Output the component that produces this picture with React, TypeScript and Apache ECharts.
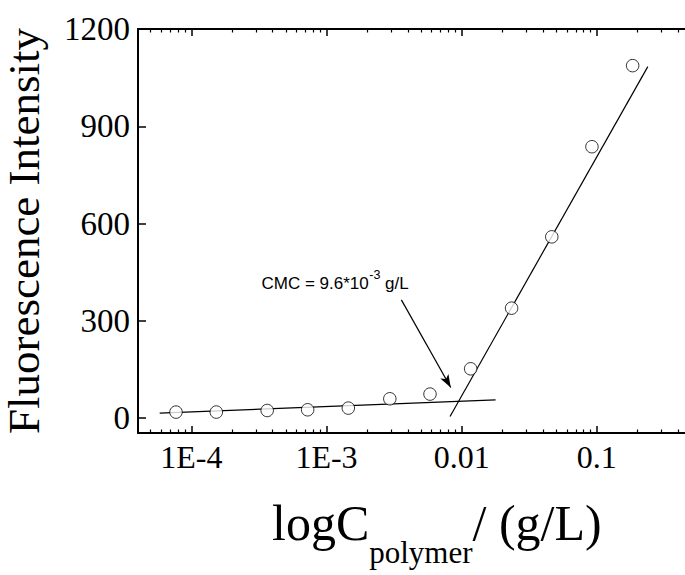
import React, { useEffect, useRef } from "react";
import * as echarts from "echarts";

// Measured data (concentration in g/L, fluorescence intensity)
const concentrations = [7.7e-5, 1.53e-4, 3.64e-4, 7.25e-4, 1.45e-3, 2.94e-3, 5.83e-3, 0.01165, 0.0234, 0.0464, 0.092, 0.184];
const intensities = [18.5, 18.5, 23.4, 25.6, 30.8, 59.5, 74, 152, 339, 559, 837, 1087];

// Linear fits (end points)
const fitLowX = [5.83e-5, 0.01782];
const fitLowY = [15.4, 56.4];
const fitHighX = [8.2e-3, 0.2383];
const fitHighY = [4.9, 1084];

// Annotation arrow (start, tip)
const arrowX = [3.58e-3, 8.3e-3];
const arrowY = [364.7, 94.3];

// Axes
const xMajorTicks = [1e-4, 1e-3, 1e-2, 1e-1];
const xMajorLabels = ["1E-4", "1E-3", "0.01", "0.1"];
const yTicks = [0, 300, 600, 900, 1200];
const X_MIN = 4.03e-5;
const X_MAX = 0.449;
const Y_MIN = -46;
const Y_MAX = 1200;

const SERIF = '"Liberation Serif", "Times New Roman", serif';
const SANS = '"Liberation Sans", Arial, sans-serif';

export default function App() {
  const ref = useRef<HTMLDivElement>(null);

  useEffect(() => {
    if (!ref.current) return;
    const chart = echarts.init(ref.current, undefined, { renderer: "svg" });
    const lg = (v: number) => Math.log10(v);
    const xmin = lg(X_MIN);
    const xmax = lg(X_MAX);
    const majorLog = xMajorTicks.map(lg);
    const minorLog: number[] = [];
    for (let e = -5; e <= 0; e++) {
      for (let k = 2; k <= 9; k++) {
        const v = lg(k) + e;
        if (v > xmin + 1e-3 && v < xmax - 1e-3) minorLog.push(v);
      }
    }
    const labelFor = (v: number) => {
      for (let i = 0; i < majorLog.length; i++) {
        if (Math.abs(majorLog[i] - v) < 1e-6) return xMajorLabels[i];
      }
      return "";
    };
    const baseX = {
      type: "value" as const,
      min: xmin,
      max: xmax,
      gridIndex: 0,
      splitLine: { show: false },
    };
    const axisLineStyle = { color: "#000", width: 2 };

    // x-title pieces (Times metrics)
    const tX = 272;
    const mainSize = 50;
    const subSize = 31;
    const wLogC = 1.945 * mainSize;
    const wSub = 3.333 * subSize;
    // CMC annotation pieces (Arial metrics)
    const cX = 261.5;
    const cSize = 17;
    const supSize = 12.5;
    const wCmc = 6.308 * cSize;
    const wSup = 0.889 * supSize;

    chart.setOption({
      animation: false,
      backgroundColor: "#fff",
      grid: { left: 138, top: 29, width: 547, height: 404, containLabel: false },
      xAxis: [
        {
          ...baseX,
          position: "bottom",
          axisLine: { show: true, onZero: false, lineStyle: axisLineStyle },
          axisTick: { show: true, inside: true, length: 7, customValues: majorLog, lineStyle: { color: "#000", width: 1.5 } },
          axisLabel: {
            show: true,
            customValues: majorLog,
            formatter: (v: number) => labelFor(v),
            fontFamily: SERIF,
            fontSize: 32,
            color: "#000",
            margin: 8,
          },
        },
        {
          ...baseX,
          position: "bottom",
          axisLine: { show: false, onZero: false },
          axisTick: { show: true, inside: true, length: 3.5, customValues: minorLog, lineStyle: { color: "#000", width: 1.2 } },
          axisLabel: { show: false },
        },
        {
          ...baseX,
          position: "top",
          axisLine: { show: true, onZero: false, lineStyle: axisLineStyle },
          axisTick: { show: true, inside: true, length: 7, customValues: majorLog, lineStyle: { color: "#000", width: 1.5 } },
          axisLabel: { show: false },
        },
        {
          ...baseX,
          position: "top",
          axisLine: { show: false, onZero: false },
          axisTick: { show: true, inside: true, length: 3.5, customValues: minorLog, lineStyle: { color: "#000", width: 1.2 } },
          axisLabel: { show: false },
        },
      ],
      yAxis: [
        {
          type: "value",
          min: Y_MIN,
          max: Y_MAX,
          position: "left",
          splitLine: { show: false },
          axisLine: { show: true, onZero: false, lineStyle: axisLineStyle },
          axisTick: { show: true, inside: true, length: 8, customValues: yTicks, lineStyle: { color: "#000", width: 1.5 } },
          axisLabel: {
            show: true,
            customValues: yTicks,
            formatter: (v: number) => String(v),
            fontFamily: SERIF,
            fontSize: 33,
            color: "#000",
            margin: 8,
          },
        },
      ],
      series: [
        {
          type: "scatter",
          xAxisIndex: 0,
          yAxisIndex: 0,
          symbol: "circle",
          symbolSize: 12.5,
          itemStyle: { color: "#fff", borderColor: "#000", borderWidth: 1 },
          data: concentrations.map((c, i) => [lg(c), intensities[i]]),
          z: 3,
        },
        {
          type: "line",
          xAxisIndex: 0,
          yAxisIndex: 0,
          showSymbol: false,
          symbol: "none",
          lineStyle: { color: "#000", width: 1.2 },
          data: fitLowX.map((c, i) => [lg(c), fitLowY[i]]),
        },
        {
          type: "line",
          xAxisIndex: 0,
          yAxisIndex: 0,
          showSymbol: false,
          symbol: "none",
          lineStyle: { color: "#000", width: 1.2 },
          data: fitHighX.map((c, i) => [lg(c), fitHighY[i]]),
          markLine: {
            silent: true,
            symbol: ["none", "arrow"],
            symbolSize: [7, 13],
            label: { show: false },
            lineStyle: { color: "#000", width: 1.2, type: "solid" },
            data: [
              [
                { coord: [lg(arrowX[0]), arrowY[0]] },
                { coord: [lg(arrowX[1]), arrowY[1]] },
              ],
            ],
          },
        },
      ],
      graphic: [
        {
          type: "text",
          x: 24,
          y: 231,
          rotation: Math.PI / 2,
          style: {
            text: "Fluorescence Intensity",
            font: `45px ${SERIF}`,
            fill: "#000",
            align: "center",
            verticalAlign: "middle",
          },
        },
        {
          type: "text",
          x: tX,
          y: 540 - 0.3375 * mainSize,
          style: { text: "logC", font: `${mainSize}px ${SERIF}`, fill: "#000", align: "left", verticalAlign: "middle" },
        },
        {
          type: "text",
          x: tX + wLogC,
          y: 563 - 0.3375 * subSize,
          style: { text: "polymer", font: `${subSize}px ${SERIF}`, fill: "#000", align: "left", verticalAlign: "middle" },
        },
        {
          type: "text",
          x: tX + wLogC + wSub,
          y: 540 - 0.3375 * mainSize,
          style: { text: "/ (g/L)", font: `${mainSize}px ${SERIF}`, fill: "#000", align: "left", verticalAlign: "middle" },
        },
        {
          type: "text",
          x: cX,
          y: 289.3 - 0.3465 * cSize,
          style: { text: "CMC = 9.6*10", font: `${cSize}px ${SANS}`, fill: "#000", align: "left", verticalAlign: "middle" },
        },
        {
          type: "text",
          x: cX + wCmc + 0.5,
          y: 279.8 - 0.3465 * supSize,
          style: { text: "-3", font: `${supSize}px ${SANS}`, fill: "#000", align: "left", verticalAlign: "middle" },
        },
        {
          type: "text",
          x: cX + wCmc + 0.5 + wSup,
          y: 289.3 - 0.3465 * cSize,
          style: { text: " g/L", font: `${cSize}px ${SANS}`, fill: "#000", align: "left", verticalAlign: "middle" },
        },
      ],
    });
    return () => chart.dispose();
  }, []);

  return (
    <div
      ref={ref}
      style={{ position: "fixed", left: 0, top: 0, width: 685, height: 575, background: "#fff" }}
    />
  );
}
